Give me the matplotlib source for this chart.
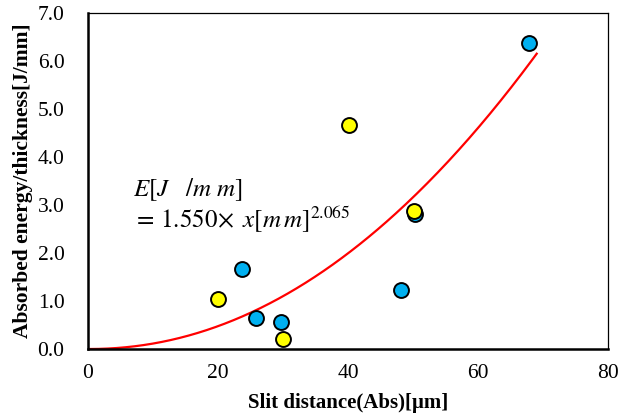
import numpy as np
import matplotlib
matplotlib.use("Agg")
import matplotlib.pyplot as plt

plt.rcParams["font.family"] = ["Liberation Serif", "DejaVu Serif"]
plt.rcParams["mathtext.fontset"] = "stix"

# Measured points (slit distance in um, absorbed energy per thickness in J/mm)
blue_x = [67.8, 23.7, 25.9, 29.6, 48.1, 50.3]
blue_y = [6.38, 1.66, 0.64, 0.56, 1.23, 2.81]
yellow_x = [20.0, 30.0, 40.1, 50.2]
yellow_y = [1.04, 0.21, 4.66, 2.87]

# Power-law fit E = a * x^b
fit_a = 1.550
fit_b = 2.065
fit_scale = 35.4  # um per fit unit
fit_xmax = 69.0

x_ticks = [0, 20, 40, 60, 80]
y_ticks = [0.0, 1.0, 2.0, 3.0, 4.0, 5.0, 6.0, 7.0]

fig = plt.figure(figsize=(6.2, 4.16), dpi=100)
ax = fig.add_axes([0.142, 0.161, 0.839, 0.808])

xf = np.linspace(0, fit_xmax, 300)
yf = fit_a * (xf / fit_scale) ** fit_b
ax.plot(xf, yf, color="#FF0000", lw=1.6, zorder=2)

ax.scatter(blue_x, blue_y, s=115, color="#00B0F0", edgecolor="black",
           linewidth=1.4, zorder=3)
ax.scatter(yellow_x, yellow_y, s=115, color="#FFFF00", edgecolor="black",
           linewidth=1.4, zorder=4)

ax.set_xlim(0, 80)
ax.set_ylim(0, 7.0)
ax.set_xticks(x_ticks)
ax.set_yticks(y_ticks)
ax.set_xticklabels([str(v) for v in x_ticks])
ax.set_yticklabels([f"{v:.1f}" for v in y_ticks])
ax.tick_params(length=0, labelsize=15.5)
ax.tick_params(axis="y", pad=17)
ax.tick_params(axis="x", pad=11)

for side in ["left", "bottom"]:
    ax.spines[side].set_linewidth(1.8)
for side in ["top", "right"]:
    ax.spines[side].set_linewidth(0.9)

ax.set_xlabel("Slit distance(Abs)[μm]", fontsize=15, fontweight="bold", labelpad=7)
ax.set_ylabel("Absorbed energy/thickness[J/mm]", fontsize=15.5, fontweight="bold", labelpad=3)

ax.text(6.9, 3.32, r"$E\left[J\ \ \ /m\ m\right]$", fontsize=18, va="center", ha="left")
ax.text(6.9, 2.68, r"$=\,1.550\!\times\ x[m\,m]^{2.065}$", fontsize=18, va="center", ha="left")

fig.savefig("out.png", dpi=100)
